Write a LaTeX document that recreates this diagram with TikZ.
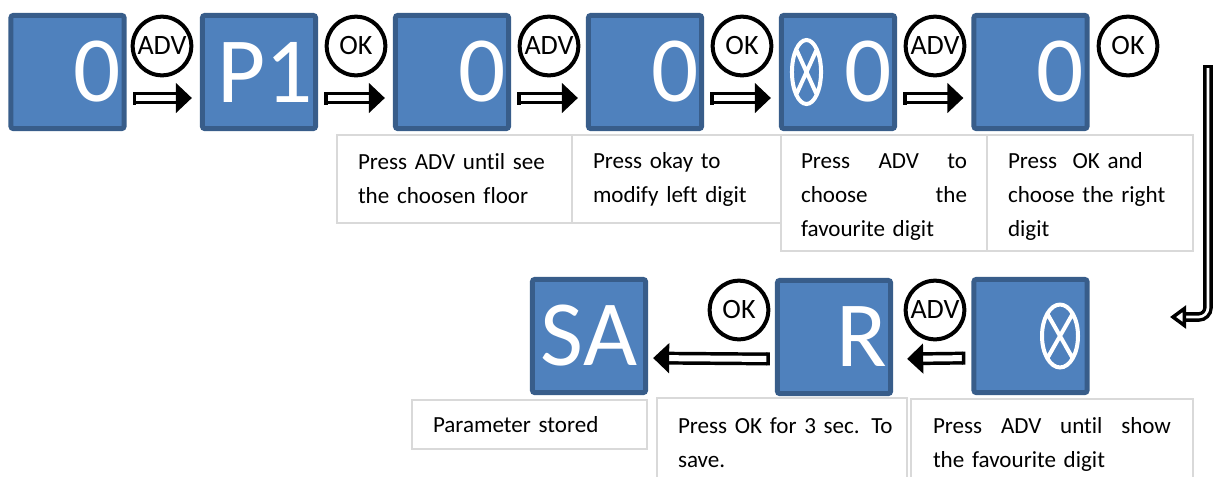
\documentclass[tikz,border=0pt]{standalone}
\usepackage{fontspec}
\setmainfont{Carlito}[Ligatures=NoCommon]
\usetikzlibrary{arrows.meta,calc}

\definecolor{dispblue}{RGB}{79,129,189}
\definecolor{dispedge}{RGB}{56,93,138}
\definecolor{cellgray}{RGB}{217,217,217}

\tikzset{
  disp/.style={rectangle, rounded corners=2pt, draw=dispedge, fill=dispblue,
    line width=3.75pt, minimum width=85pt, minimum height=85pt,
    text width=80.5pt, inner xsep=2.25pt, align=right, text=white,
    font=\fontsize{70}{70}\selectfont},
  btn/.style={circle, draw=black, line width=3pt, minimum size=44pt,
    inner sep=0pt, font=\fontsize{21}{21}\selectfont},
  hollow/.style={draw=black, line width=2.6pt, double=white, double distance=4.5pt,
    {Bar[width=9.75pt,line width=2.6pt]}-{Triangle[length=12pt,width=22.5pt,line width=1pt]}},
  cell/.style={rectangle, draw=cellgray, line width=1.5pt, anchor=north west,
    outer sep=0pt, inner xsep=15.75pt, align=left,
    font=\fontsize{17.3}{25.5}\selectfont},
  xmark/.style={draw=white, line width=3pt},
}

\begin{document}
\begin{tikzpicture}[x=0.75pt, y=-0.75pt]
    \useasboundingbox (0,0) rectangle (1214,476);
    \clip (0,0) rectangle (1214,476);

    % top row of displays
    \node[disp] (b1) at (67.5,72) {0};
    \node[disp] (b2) at (259,72) {P1};
    \node[disp] (b3) at (452,72) {0};
    \node[disp] (b4) at (645,72) {0};
    \node[disp] (b5) at (838,72) {0};
    \node[disp] (b6) at (1030.5,72) {0};

    % blinking digit
    \coordinate (x5) at ($(b5.center)+(-31.5,0)$);
    \draw[xmark] (x5) ellipse [x radius=10.9pt, y radius=24pt]
        ($(x5)+(-7.7pt,-17pt)$) -- ($(x5)+(7.7pt,17pt)$)
        ($(x5)+(-7.7pt,17pt)$) -- ($(x5)+(7.7pt,-17pt)$);

    % keys
    \node[btn] (k1) at (162,46) {ADV};
    \node[btn] (k2) at (356,46) {OK};
    \node[btn] (k3) at (549,46) {ADV};
    \node[btn] (k4) at (742,46) {OK};
    \node[btn] (k5) at (935,46) {ADV};
    \node[btn] (k6) at (1128,46) {OK};

    % arrows
    \draw[hollow, shorten <=4.5pt, shorten >=6pt] ([yshift=-19.5pt]b1.east) -- ([yshift=-19.5pt]b2.west);
    \draw[hollow, shorten <=4.5pt, shorten >=6pt] ([yshift=-19.5pt]b2.east) -- ([yshift=-19.5pt]b3.west);
    \draw[hollow, shorten <=4.5pt, shorten >=6pt] ([yshift=-19.5pt]b3.east) -- ([yshift=-19.5pt]b4.west);
    \draw[hollow, shorten <=4.5pt, shorten >=6pt] ([yshift=-19.5pt]b4.east) -- ([yshift=-19.5pt]b5.west);
    \draw[hollow, shorten <=4.5pt, shorten >=6pt] ([yshift=-19.5pt]b5.east) -- ([yshift=-19.5pt]b6.west);

    % captions, top row
    \node[cell, text width=144.75pt, minimum height=66pt] (t1) at (337,135)
        {Press ADV until see\\the choosen floor};
    \node[cell, text width=125.25pt, minimum height=66pt] (t2) at (572,135)
        {Press okay to\\modify left digit};
    \node[cell, inner xsep=15pt, text width=124.5pt, minimum height=87pt] (t3) at (781,135)
        {\rule{0pt}{17.3pt}Press\hfill ADV\hfill to\\choose\hfill the\\favourite digit};
    \node[cell, text width=123pt, minimum height=87pt] (t4) at (987,135)
        {\rule{0pt}{17.3pt}Press\ \ OK and\\choose the right\\digit};

    % turn to second row
    \coordinate (bendtop) at (1208,65);
    \coordinate (bendend) at (1170,317);
    \draw[hollow, line width=2.6pt, double distance=2pt, rounded corners=7pt,
        {Bar[width=7.2pt,line width=2.6pt]}-{Triangle[open,length=12pt,width=17pt,line width=2.6pt]}]
        (bendtop) |- (bendend);

    % bottom row of displays
    \node[disp, align=center] (sa) at (589,336) {SA};
    \node[disp] (r) at (834,337) {R};
    \node[disp] (bx) at (1030.5,336) {\phantom{0}};

    \coordinate (xx) at ($(bx.center)+(29.5,0)$);
    \draw[xmark] (xx) ellipse [x radius=13.5pt, y radius=23.6pt]
        ($(xx)+(-9.5pt,-16.7pt)$) -- ($(xx)+(9.5pt,16.7pt)$)
        ($(xx)+(-9.5pt,16.7pt)$) -- ($(xx)+(9.5pt,-16.7pt)$);

    \node[btn] (k7) at (739,310) {OK};
    \node[btn] (k8) at (935,310) {ADV};

    \draw[hollow, shorten <=3.75pt, shorten >=3.75pt] ([yshift=-16.5pt]r.west) -- ([yshift=-16.5pt]sa.east);
    \draw[hollow, shorten <=4.5pt, shorten >=10.5pt] ([yshift=-16.5pt]bx.west) -- ([yshift=-16.5pt]r.east);

    % captions, bottom row
    \node[cell, text width=144.75pt, minimum height=36.75pt] (c1) at (412,400)
        {Parameter stored};
    \node[cell, inner xsep=15.75pt, text width=156pt, minimum height=67.5pt] (c2) at (657,398)
        {\mbox{Press OK for 3 sec. To}\\save.};
    \node[cell, inner xsep=16.5pt, text width=178.5pt, minimum height=67.5pt] (c3) at (911,399)
        {Press\hfill ADV\hfill until\hfill show\\the favourite digit};
\end{tikzpicture}
\end{document}
